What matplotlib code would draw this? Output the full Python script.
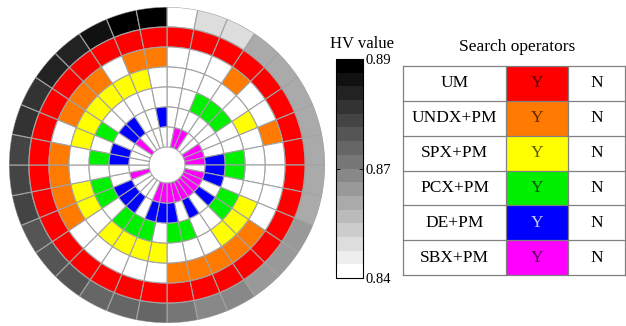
import matplotlib
matplotlib.use("Agg")
import matplotlib.pyplot as plt
import numpy as np
from matplotlib.colors import ListedColormap, Normalize
from matplotlib.cm import ScalarMappable

plt.rcParams["font.family"] = ["Liberation Serif", "DejaVu Serif"]

# Search operators, drawn from the outer ring inwards
operators = ["UM", "UNDX+PM", "SPX+PM", "PCX+PM", "DE+PM", "SBX+PM"]
op_colors = ["#FF0000", "#FF7A00", "#FFFF00", "#00F000", "#0000FF", "#FF00FF"]

# HV value of each operator combination, clockwise from 12 o'clock
hv = [0.8415, 0.8486, 0.8497, 0.8588, 0.8597, 0.8599, 0.8601, 0.8603,
      0.8607, 0.8609, 0.8617, 0.8629, 0.8637, 0.8656, 0.8670, 0.8686,
      0.8711, 0.8721, 0.8731, 0.8741, 0.8758, 0.8772, 0.8782, 0.8796,
      0.8805, 0.8813, 0.8833, 0.8849, 0.8866, 0.8884, 0.8904, 0.8935]

# 1 = operator used in that combination
um   = [1, 1, 1, 1, 1, 1, 1, 1, 1, 1, 1, 1, 1, 1, 1, 1,
        1, 1, 1, 1, 1, 1, 1, 1, 1, 1, 1, 1, 1, 1, 1, 1]
undx = [0, 0, 0, 1, 0, 0, 1, 0, 0, 0, 0, 1, 1, 1, 1, 1,
        0, 0, 0, 0, 0, 1, 1, 1, 1, 0, 1, 1, 1, 0, 1, 1]
spx  = [0, 0, 0, 0, 0, 1, 0, 0, 0, 0, 1, 1, 1, 0, 0, 0,
        1, 1, 1, 1, 0, 1, 1, 0, 0, 1, 1, 1, 1, 1, 1, 0]
pcx  = [0, 0, 1, 1, 1, 0, 0, 1, 1, 0, 1, 1, 0, 0, 1, 1,
        0, 1, 1, 1, 0, 1, 1, 0, 1, 0, 1, 0, 0, 0, 0, 0]
de   = [0, 0, 0, 0, 0, 0, 0, 1, 1, 1, 0, 1, 0, 1, 0, 1,
        1, 1, 0, 1, 1, 1, 0, 0, 1, 1, 0, 1, 1, 0, 0, 1]
sbx  = [0, 1, 1, 0, 0, 1, 1, 1, 0, 1, 1, 1, 1, 1, 1, 1,
        1, 1, 0, 0, 0, 0, 1, 0, 0, 0, 0, 1, 0, 0, 0, 0]
usage = [um, undx, spx, pcx, de, sbx]

hole = 18.0
ring_w = 20.0
edge = "#A3A3A3"

fig = plt.figure(figsize=(6.26, 3.26), dpi=100)

# ---- ring chart ----
ax = fig.add_axes([9 / 626, 3 / 326, 316 / 626, 316 / 326], projection="polar")
ax.set_theta_zero_location("N")
ax.set_theta_direction(-1)

n = len(hv)
width = 2 * np.pi / n
theta = (np.arange(n) + 0.5) * width

gray_cmap = ListedColormap(np.repeat(np.linspace(1, 0, 16)[:, None], 3, axis=1))
vmin, vmax = min(hv), max(hv)
norm = Normalize(vmin=vmin, vmax=vmax)

# outer ring: HV value
r_out = hole + ring_w * (len(operators) + 1)
ax.bar(theta, ring_w, width=width, bottom=r_out - ring_w,
       color=gray_cmap(norm(np.array(hv))), edgecolor=edge, linewidth=0.8)

# one ring per operator
for i, (flags, col) in enumerate(zip(usage, op_colors)):
    bottom = r_out - ring_w * (i + 2)
    colors = [col if f else "white" for f in flags]
    ax.bar(theta, ring_w, width=width, bottom=bottom,
           color=colors, edgecolor=edge, linewidth=0.8)

ax.set_ylim(0, r_out)
ax.set_axis_off()

# ---- colour bar ----
cax = fig.add_axes([336 / 626, 48 / 326, 27 / 626, 219 / 326])
sm = ScalarMappable(norm=norm, cmap=gray_cmap)
ticks = [vmin, (vmin + vmax) / 2, vmax]
cb = fig.colorbar(sm, cax=cax, ticks=ticks)
cb.ax.set_yticklabels([f"{t:.2f}" for t in ticks])
cb.outline.set_linewidth(0.8)
cb.ax.tick_params(direction="in", length=3, width=0.6, left=True, right=True,
                  labelsize=10.5, pad=2)
fig.text(362 / 626, 1 - 44 / 326, "HV value", ha="center", va="center", fontsize=12)

# ---- operator table ----
tax = fig.add_axes([403 / 626, 51 / 326, 223 / 626, 209 / 326])
tax.set_xlim(0, 223)
tax.set_ylim(209, 0)
tax.set_axis_off()

row_h = 209 / len(operators)
col_x = [0, 103, 165, 222.3]
line = "#808080"
for i, (name, col) in enumerate(zip(operators, op_colors)):
    y0 = i * row_h
    tax.add_patch(plt.Rectangle((col_x[1], y0), col_x[2] - col_x[1], row_h,
                                facecolor=col, edgecolor="none"))
    yc = y0 + row_h / 2
    tax.text((col_x[0] + col_x[1]) / 2, yc, name, ha="center", va="center",
             fontsize=12.5)
    ycol = ("white", 0.8) if name == "DE+PM" else ("black", 0.65)
    tax.text((col_x[1] + col_x[2]) / 2, yc, "Y", ha="center", va="center",
             fontsize=12.5, color=ycol[0], alpha=ycol[1])
    tax.text((col_x[2] + col_x[3]) / 2, yc, "N", ha="center", va="center",
             fontsize=12.5)

for k in range(len(operators) + 1):
    tax.plot([col_x[0], col_x[-1]], [k * row_h] * 2, color=line, lw=0.9,
             clip_on=False)
for x in col_x:
    tax.plot([x, x], [0, 209], color=line, lw=0.9, clip_on=False)

fig.text(517 / 626, 1 - 47 / 326, "Search operators", ha="center", va="center",
         fontsize=12.5)

fig.savefig("out.png", dpi=100)
